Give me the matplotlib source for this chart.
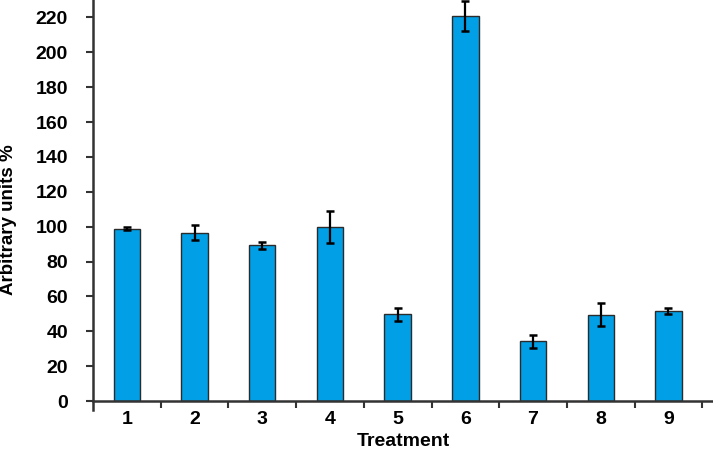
import matplotlib
matplotlib.use("Agg")
import matplotlib.pyplot as plt
from matplotlib.ticker import FixedLocator

categories = ["1", "2", "3", "4", "5", "6", "7", "8", "9"]
values = [98.8, 96.5, 89.2, 99.8, 49.8, 221, 34.2, 49.5, 51.6]
errors = [0.8, 4.2, 1.8, 9.0, 3.8, 8.5, 3.7, 6.5, 1.6]
yticks = [0, 20, 40, 60, 80, 100, 120, 140, 160, 180, 200, 220]

plt.rcParams['font.family'] = ['Liberation Sans', 'DejaVu Sans']
plt.rcParams['font.weight'] = 'bold'

fig = plt.figure(figsize=(7.13, 4.5), dpi=100)
ax = fig.add_axes([93 / 713, 1 - 401 / 450, 620 / 713, 401 / 450])

x = list(range(1, len(categories) + 1))
ax.bar(x, values, width=0.39, color="#009FE6", edgecolor="#2b2b2b", linewidth=1.0, zorder=2)
ax.errorbar(x, values, yerr=errors, fmt="none", ecolor="black", elinewidth=1.6,
            capsize=3, capthick=1.8, zorder=3)

ax.set_xlim(0.5, 0.5 + 620 / 67.7)
ax.set_ylim(0, 230)
ax.set_yticks(yticks)
ax.set_xticks(x)
ax.set_xticklabels(categories)
ax.tick_params(axis='x', which='major', length=0, pad=7, labelsize=14)
ax.xaxis.set_minor_locator(FixedLocator([i + 0.5 for i in range(1, 10)]))
ax.tick_params(axis='x', which='minor', length=5, width=1.5, direction='out', color='#333333')
ax.tick_params(axis='y', length=5, width=1.5, direction='out', color='#333333', labelsize=14, pad=13)
for lab in ax.get_xticklabels() + ax.get_yticklabels():
    lab.set_fontweight('bold')

for s in ['top', 'right']:
    ax.spines[s].set_visible(False)
ax.spines['left'].set_linewidth(1.8)
ax.spines['bottom'].set_linewidth(1.8)
ax.spines['left'].set_color('#333333')
ax.spines['bottom'].set_color('#333333')
ax.spines['left'].set_bounds(-5, 230)

ax.set_xlabel("Treatment", fontsize=14, fontweight='bold')
ax.set_ylabel("Arbitrary units %", fontsize=13.5, fontweight='bold')
ax.xaxis.set_label_coords(0.5, -0.08)
ax.yaxis.set_label_coords(-0.122, 0.453)

fig.savefig("out.png", dpi=100)
